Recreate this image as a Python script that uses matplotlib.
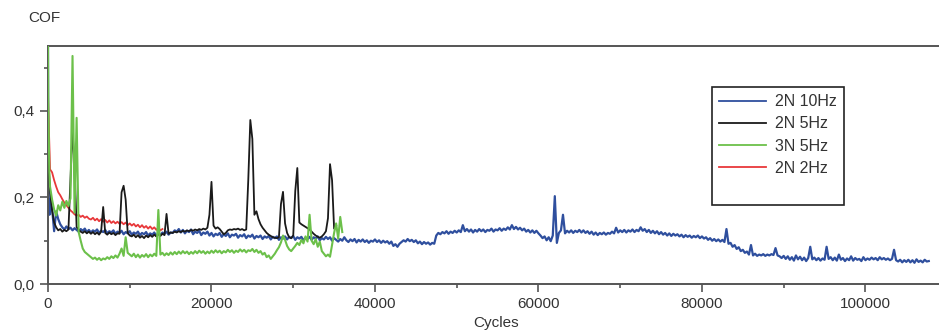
import numpy as np
import matplotlib.pyplot as plt
from matplotlib.lines import Line2D
from matplotlib.ticker import MultipleLocator, FuncFormatter

plt.rcParams['font.family'] = ['Liberation Sans', 'DejaVu Sans']

STEP = 250  # cycles between logged COF samples

# 2N 10Hz
blue_head_cycles = [0, 40, 100, 180]
blue_head_cof = [0.55, 0.25, 0.19, 0.16]
blue_cof = [
    0.195, 0.175, 0.122, 0.168, 0.150, 0.138, 0.131, 0.126, 0.133, 0.127, 0.130, 0.124, 0.129, 0.125, 0.121, 0.127, 0.123, 0.128, 0.120, 0.125,
    0.119, 0.124, 0.121, 0.126, 0.118, 0.123, 0.120, 0.125, 0.117, 0.122, 0.119, 0.124, 0.116, 0.121, 0.118, 0.123, 0.115, 0.120, 0.117, 0.122,
    0.114, 0.119, 0.116, 0.121, 0.113, 0.118, 0.115, 0.120, 0.112, 0.117, 0.114, 0.119, 0.111, 0.118, 0.113, 0.119, 0.116, 0.121, 0.114, 0.119,
    0.118, 0.124, 0.121, 0.127, 0.119, 0.125, 0.117, 0.123, 0.120, 0.126, 0.115, 0.121, 0.118, 0.123, 0.113, 0.119, 0.116, 0.121, 0.112, 0.118,
    0.110, 0.116, 0.113, 0.118, 0.109, 0.115, 0.111, 0.117, 0.108, 0.114, 0.112, 0.116, 0.107, 0.113, 0.110, 0.115, 0.106, 0.112, 0.109, 0.114,
    0.105, 0.111, 0.108, 0.112, 0.104, 0.110, 0.107, 0.111, 0.103, 0.109, 0.106, 0.110, 0.102, 0.108, 0.105, 0.110, 0.103, 0.109, 0.106, 0.111,
    0.102, 0.108, 0.105, 0.109, 0.101, 0.107, 0.104, 0.109, 0.102, 0.108, 0.105, 0.110, 0.101, 0.106, 0.103, 0.109, 0.104, 0.108, 0.100, 0.106,
    0.102, 0.098, 0.104, 0.100, 0.108, 0.101, 0.097, 0.103, 0.099, 0.104, 0.096, 0.102, 0.098, 0.103, 0.097, 0.101, 0.095, 0.100, 0.098, 0.103,
    0.097, 0.101, 0.095, 0.100, 0.096, 0.099, 0.093, 0.098, 0.088, 0.092, 0.086, 0.093, 0.097, 0.101, 0.098, 0.104, 0.099, 0.102, 0.097, 0.101,
    0.094, 0.098, 0.092, 0.097, 0.093, 0.096, 0.091, 0.095, 0.093, 0.112, 0.118, 0.115, 0.120, 0.117, 0.122, 0.116, 0.121, 0.118, 0.123, 0.119,
    0.124, 0.120, 0.136, 0.122, 0.127, 0.121, 0.126, 0.119, 0.125, 0.121, 0.127, 0.122, 0.126, 0.120, 0.125, 0.123, 0.128, 0.121, 0.126, 0.124,
    0.129, 0.123, 0.128, 0.125, 0.131, 0.126, 0.136, 0.127, 0.132, 0.126, 0.130, 0.124, 0.128, 0.121, 0.125, 0.119, 0.124, 0.118, 0.123, 0.117,
    0.112, 0.106, 0.110, 0.101, 0.108, 0.099, 0.112, 0.203, 0.095, 0.118, 0.124, 0.160, 0.117, 0.123, 0.119, 0.124, 0.118, 0.123, 0.120, 0.125,
    0.119, 0.124, 0.118, 0.122, 0.116, 0.121, 0.114, 0.119, 0.113, 0.118, 0.115, 0.119, 0.114, 0.118, 0.116, 0.121, 0.117, 0.130, 0.119, 0.124,
    0.120, 0.125, 0.119, 0.124, 0.121, 0.126, 0.120, 0.125, 0.122, 0.131, 0.123, 0.127, 0.120, 0.125, 0.118, 0.123, 0.117, 0.122, 0.115, 0.120,
    0.114, 0.118, 0.112, 0.117, 0.111, 0.116, 0.112, 0.115, 0.110, 0.114, 0.108, 0.113, 0.109, 0.112, 0.107, 0.111, 0.108, 0.112, 0.106, 0.110,
    0.105, 0.108, 0.102, 0.106, 0.100, 0.104, 0.099, 0.103, 0.098, 0.102, 0.097, 0.127, 0.093, 0.095, 0.086, 0.090, 0.081, 0.085, 0.076, 0.079,
    0.072, 0.075, 0.068, 0.090, 0.066, 0.070, 0.065, 0.068, 0.066, 0.069, 0.065, 0.068, 0.066, 0.069, 0.067, 0.083, 0.066, 0.064, 0.060, 0.065,
    0.058, 0.064, 0.056, 0.062, 0.054, 0.066, 0.057, 0.063, 0.055, 0.061, 0.053, 0.060, 0.086, 0.057, 0.061, 0.055, 0.060, 0.054, 0.059, 0.056,
    0.086, 0.058, 0.062, 0.055, 0.061, 0.054, 0.068, 0.056, 0.060, 0.053, 0.059, 0.055, 0.064, 0.054, 0.060, 0.056, 0.058, 0.053, 0.062, 0.055,
    0.059, 0.056, 0.061, 0.057, 0.060, 0.055, 0.062, 0.057, 0.060, 0.056, 0.059, 0.055, 0.058, 0.079, 0.055, 0.052, 0.056, 0.050, 0.055, 0.051,
    0.056, 0.050, 0.055, 0.049, 0.057, 0.051, 0.054, 0.050, 0.056, 0.052, 0.053,
]

# 2N 5Hz
black_head_cycles = [0, 60, 150]
black_head_cof = [0.36, 0.30, 0.25]
black_cof = [
    0.215, 0.170, 0.142, 0.131, 0.124, 0.127, 0.121, 0.125, 0.122, 0.126, 0.245, 0.358, 0.270, 0.132, 0.125, 0.121, 0.118, 0.122, 0.117, 0.121,
    0.116, 0.120, 0.115, 0.119, 0.114, 0.121, 0.178, 0.118, 0.114, 0.119, 0.115, 0.118, 0.113, 0.117, 0.116, 0.212, 0.227, 0.195, 0.118, 0.112,
    0.110, 0.114, 0.108, 0.113, 0.107, 0.111, 0.106, 0.112, 0.108, 0.113, 0.109, 0.114, 0.110, 0.115, 0.111, 0.116, 0.113, 0.162, 0.116, 0.119,
    0.118, 0.121, 0.119, 0.122, 0.120, 0.123, 0.121, 0.124, 0.122, 0.125, 0.123, 0.126, 0.124, 0.127, 0.125, 0.128, 0.126, 0.130, 0.160, 0.236,
    0.135, 0.128, 0.131, 0.127, 0.121, 0.115, 0.118, 0.124, 0.126, 0.125, 0.127, 0.126, 0.128, 0.125, 0.127, 0.124, 0.126, 0.240, 0.379, 0.335,
    0.160, 0.168, 0.150, 0.138, 0.130, 0.124, 0.118, 0.114, 0.111, 0.108, 0.107, 0.106, 0.108, 0.185, 0.213, 0.140, 0.118, 0.108, 0.106, 0.112,
    0.215, 0.268, 0.142, 0.138, 0.135, 0.132, 0.129, 0.126, 0.121, 0.116, 0.112, 0.109, 0.107, 0.110, 0.115, 0.122, 0.152, 0.277, 0.240, 0.128,
    0.135,
]

# 3N 5Hz
green_head_cycles = [0, 40, 100, 160]
green_head_cof = [0.55, 0.41, 0.33, 0.26]
green_cof = [
    0.225, 0.195, 0.172, 0.158, 0.182, 0.170, 0.190, 0.176, 0.192, 0.180, 0.198, 0.527, 0.165, 0.384, 0.120, 0.100, 0.082, 0.074, 0.070, 0.066,
    0.062, 0.058, 0.061, 0.056, 0.060, 0.055, 0.059, 0.057, 0.062, 0.058, 0.064, 0.060, 0.066, 0.061, 0.070, 0.082, 0.065, 0.108, 0.072, 0.068,
    0.064, 0.070, 0.062, 0.068, 0.061, 0.067, 0.063, 0.069, 0.062, 0.068, 0.064, 0.070, 0.065, 0.171, 0.068, 0.072, 0.066, 0.071, 0.067, 0.073,
    0.068, 0.074, 0.069, 0.075, 0.070, 0.076, 0.071, 0.075, 0.069, 0.074, 0.070, 0.076, 0.071, 0.077, 0.072, 0.076, 0.070, 0.075, 0.071, 0.077,
    0.072, 0.078, 0.073, 0.077, 0.071, 0.076, 0.073, 0.079, 0.074, 0.078, 0.072, 0.077, 0.074, 0.080, 0.075, 0.079, 0.073, 0.078, 0.076, 0.081,
    0.074, 0.079, 0.072, 0.076, 0.068, 0.072, 0.062, 0.066, 0.058, 0.064, 0.070, 0.078, 0.085, 0.096, 0.112, 0.102, 0.088, 0.080, 0.076, 0.082,
    0.088, 0.095, 0.090, 0.102, 0.094, 0.110, 0.098, 0.160, 0.100, 0.092, 0.104, 0.086, 0.098, 0.076, 0.070, 0.064, 0.068, 0.063, 0.090, 0.118,
    0.140, 0.105, 0.155, 0.120,
]

# 2N 2Hz
red_head_cycles = [0, 50, 120, 200]
red_head_cof = [0.44, 0.40, 0.35, 0.30]
red_cof = [
    0.265, 0.258, 0.240, 0.225, 0.212, 0.205, 0.196, 0.188, 0.182, 0.176, 0.170, 0.166, 0.161, 0.158, 0.160, 0.155, 0.158, 0.153, 0.156, 0.151,
    0.149, 0.153, 0.147, 0.151, 0.145, 0.150, 0.144, 0.148, 0.142, 0.147, 0.141, 0.145, 0.140, 0.144, 0.139, 0.143, 0.138, 0.142, 0.136, 0.140,
    0.135, 0.139, 0.133, 0.137, 0.131, 0.136, 0.130, 0.134, 0.128, 0.133, 0.127, 0.131, 0.125, 0.130, 0.124, 0.127,
]

labels = ['2N 10Hz', '2N 5Hz', '3N 5Hz', '2N 2Hz']
colors = ['#2f4f9e', '#1a1a1a', '#6cc04a', '#e8383a']
widths = [1.6, 1.3, 1.5, 1.3]


def series(head_x, head_y, body):
    x = np.concatenate([head_x, STEP * np.arange(1, len(body) + 1)])
    y = np.concatenate([head_y, body])
    return x, y


runs = [
    series(blue_head_cycles, blue_head_cof, blue_cof),
    series(black_head_cycles, black_head_cof, black_cof),
    series(green_head_cycles, green_head_cof, green_cof),
    series(red_head_cycles, red_head_cof, red_cof),
]
zorders = [2, 4, 5, 3]

fig = plt.figure(figsize=(9.39, 3.32), dpi=100)
ax = fig.add_axes([48 / 939, 48 / 332, 1 - 48 / 939, 238 / 332])

handles = []
for (x, y), lab, c, w, z in zip(runs, labels, colors, widths, zorders):
    h, = ax.plot(x, y, color=c, lw=w, label=lab, zorder=z)
    handles.append(h)

ax.set_xlim(0, 109000)
ax.set_ylim(0, 0.55)
ax.xaxis.set_major_locator(MultipleLocator(20000))
ax.xaxis.set_minor_locator(MultipleLocator(10000))
ax.yaxis.set_major_locator(MultipleLocator(0.2))
ax.yaxis.set_minor_locator(MultipleLocator(0.1))
ax.yaxis.set_major_formatter(FuncFormatter(lambda v, p: f'{v:.1f}'.replace('.', ',')))

ax.spines['right'].set_visible(False)
for s in ['left', 'bottom', 'top']:
    ax.spines[s].set_color('#555555')
    ax.spines[s].set_linewidth(1.4)
ax.tick_params(which='major', direction='out', length=5.5, width=1.2, color='#555555',
               labelsize=11, labelcolor='#333333', pad=4)
ax.tick_params(which='minor', direction='out', length=3, width=1.2, color='#555555')

fig.text(28 / 939, 1 - 18 / 332, 'COF', fontsize=11, color='#333333', ha='left', va='center')
fig.text(496 / 939, 1 - 323 / 332, 'Cycles', fontsize=11, color='#333333', ha='center', va='center')

# blank last row leaves the empty strip under the entries
blank = Line2D([], [], color='none')
leg = fig.legend(handles + [blank], labels + [' '], loc='upper left',
                 bbox_to_anchor=(712 / 939, 1 - 87 / 332), bbox_transform=fig.transFigure,
                 borderaxespad=0, fancybox=False, framealpha=1, edgecolor='#222222',
                 fontsize=11.5, handlelength=2.9, handletextpad=0.6, labelspacing=0.45,
                 borderpad=0.45)
leg.get_frame().set_linewidth(1.2)
for t in leg.get_texts():
    t.set_color('#333333')
for h in leg.legend_handles[:4]:
    h.set_linewidth(1.3)

fig.savefig('out.png', dpi=100)
